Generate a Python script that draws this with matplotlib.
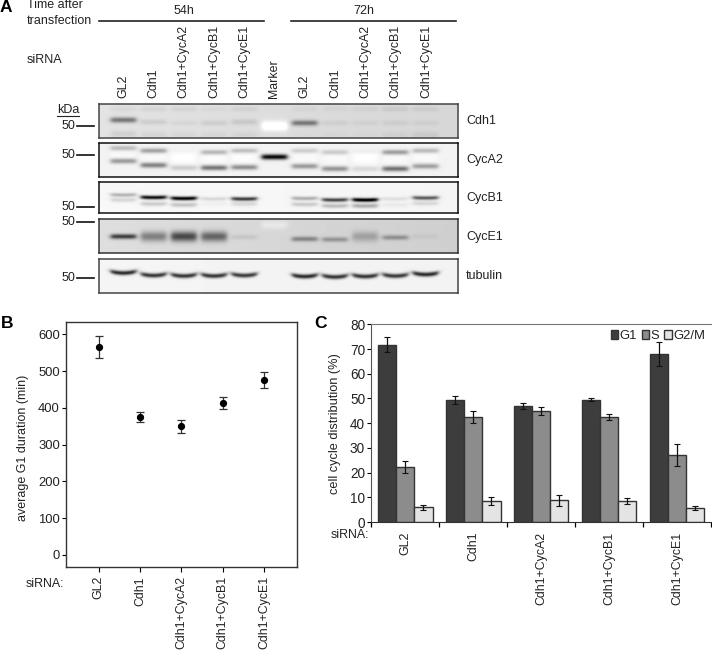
import numpy as np
import matplotlib
matplotlib.use('Agg')
import matplotlib.pyplot as plt

plt.rcParams['font.family'] = ['Liberation Sans', 'DejaVu Sans']

W, H = 712, 651

# panel A
lane_names = ['GL2', 'Cdh1', 'Cdh1+CycA2', 'Cdh1+CycB1', 'Cdh1+CycE1', 'Marker',
              'GL2', 'Cdh1', 'Cdh1+CycA2', 'Cdh1+CycB1', 'Cdh1+CycE1']
blot_names = ['Cdh1', 'CycA2', 'CycB1', 'CycE1', 'tubulin']

# band rows (px below blot top) and darkness for each lane, one pair per band
cdh1_main_rows = [16, 18, 19, 19, 18, 19, 19, 19, 19, 19, 19]
cdh1_main_dark = [.42, .08, .04, .07, .09, 0, .40, .05, .04, .05, .04]
cdh1_top_rows = [5, 5, 5, 5, 5, 5, 5, 5, 5, 5, 5]
cdh1_top_dark = [.04, .05, .05, .03, .05, 0, .03, .03, .04, .06, .05]
cdh1_low_rows = [30, 31, 31, 31, 31, 31, 31, 31, 31, 31, 31]
cdh1_low_dark = [.07, .05, .04, .04, .04, 0, .01, .02, .02, .04, .06]
cdh1_blob_dark = [0, 0, 0, 0, 0, -.2, 0, 0, 0, 0, 0]

cyca2_up_rows = [6, 8.5, 8.5, 10, 8.5, 9, 8.5, 10, 9, 10, 8.5]
cyca2_up_dark = [.22, .34, .02, .26, .22, 0, .16, .18, .04, .36, .24]
cyca2_low_rows = [18.5, 22.5, 25, 25, 24.5, 14.5, 23.5, 26, 26, 26, 23.5]
cyca2_low_dark = [.38, .46, .16, .5, .4, .95, .36, .38, .11, .52, .34]
cyca2_halo_dark = [.03, .03, .05, .04, .04, 0, .03, .03, .05, .03, .03]

cycb1_main_rows = [13, 15.5, 16.5, 17, 17, 16, 16.5, 18, 18, 17, 16]
cycb1_main_dark = [.26, .9, .95, .12, .72, 0, .28, .68, .98, .09, .6]
cycb1_low_rows = [18, 22, 23, 22, 22, 22, 22.5, 24, 24, 23, 21.5]
cycb1_low_dark = [.13, .17, .2, .03, .12, 0, .17, .22, .28, .05, .12]

cyce1_main_rows = [17.5, 17.5, 17.5, 17.5, 18, 18, 20, 20.5, 17.5, 18.5, 17.5]
cyce1_main_dark = [.62, 0, 0, 0, .07, 0, .32, .25, 0, .26, .04]
cyce1_wide_dark = [0, .36, .58, .46, 0, 0, 0, 0, .2, 0, 0]
cyce1_light_dark = [0, 0, 0, 0, 0, -.07, 0, 0, 0, 0, 0]

tubulin_rows = [14, 16.5, 17, 17, 16.5, 17, 17.5, 18, 17.5, 17, 15.5]
tubulin_dark = [.78, .74, .74, .74, .72, 0, .78, .74, .74, .72, .78]

# panel B
b_names = ['GL2', 'Cdh1', 'Cdh1+CycA2', 'Cdh1+CycB1', 'Cdh1+CycE1']
g1_duration = [565, 376, 350, 413, 476]
g1_duration_err = [30, 14, 17, 17, 22]

# panel C
g1_pct = [71.8, 49.4, 47.0, 49.4, 67.9]
g1_err = [3.0, 1.5, 1.2, 0.6, 4.9]
s_pct = [22.3, 42.4, 44.8, 42.6, 27.0]
s_err = [2.5, 2.5, 1.7, 1.3, 4.5]
g2m_pct = [5.9, 8.4, 8.8, 8.4, 5.5]
g2m_err = [0.9, 1.6, 2.2, 1.2, 0.8]


def ax_px(l, t, r, b):
    return fig.add_axes([l / W, 1 - b / H, (r - l) / W, (b - t) / H])


def render_blot(ax, bands, bg_left, bg_right, width, height, edge, smile=0):
    # soft gel look: each band is blurred over its lane, x is in lane units
    lane_px = 30.3
    x0 = -24 / lane_px
    x1 = x0 + width / lane_px
    xs = np.linspace(x0, x1, width)
    ys = np.arange(height) + 0.5
    xx, yy = np.meshgrid(xs, ys)
    img = np.tile(np.linspace(bg_left, bg_right, width), (height, 1))
    for rows, dark, sigma in bands:
        for i in range(len(rows)):
            if dark[i] == 0:
                continue
            dx = xx - i
            across = 0.5 * (np.tanh((dx + 0.42) / 0.09) - np.tanh((dx - 0.42) / 0.09))
            along = np.exp(-(yy - rows[i] + smile * (dx / 0.42) ** 2) ** 2 / (2 * sigma ** 2))
            img = img - dark[i] * across * along
    ax.imshow(np.clip(img, 0, 1), cmap='gray', vmin=0, vmax=1, aspect='auto',
              interpolation='bilinear', extent=[x0, x1, height, 0])
    ax.set_xticks([])
    ax.set_yticks([])
    for s in ax.spines.values():
        s.set_color(edge)
        s.set_linewidth(1.1)


fig = plt.figure(figsize=(W / 100, H / 100), dpi=100)

# pixel-space layer for the free labels
page = fig.add_axes([0, 0, 1, 1])
page.set_xlim(0, W)
page.set_ylim(H, 0)
page.axis('off')

TXT = '#222222'
page.text(0, 7, 'A', fontsize=12.5, fontweight='bold', va='center')
page.text(0.5, 324, 'B', fontsize=12.5, fontweight='bold', va='center')
page.text(314, 324, 'C', fontsize=12.5, fontweight='bold', va='center')
page.text(27, 5, 'Time after', fontsize=9, va='center', color=TXT)
page.text(27, 21.5, 'transfection', fontsize=9, va='center', color=TXT)
page.text(27, 60, 'siRNA', fontsize=9, va='center', color=TXT)
page.text(183.5, 11.5, '54h', fontsize=9, ha='center', va='center', color=TXT)
page.text(364, 11.5, '72h', fontsize=9, ha='center', va='center', color=TXT)
page.plot([99, 264], [21, 21], color=TXT, lw=1.2)
page.plot([291, 456], [21, 21], color=TXT, lw=1.2)

lane_x = 123 + 30.3 * np.arange(len(lane_names))
for x, name in zip(lane_x, lane_names):
    page.text(x, 98.5, name, rotation=90, fontsize=8.95, ha='center', va='bottom', color=TXT)

page.text(68, 110, 'kDa', fontsize=9, ha='center', va='center', color=TXT)
page.plot([57, 79], [115.5, 115.5], color=TXT, lw=0.8)
for y in [126, 154.7, 206.7, 222, 278]:
    page.text(75.5, y, '50', fontsize=9, ha='right', va='center', color=TXT)
    page.plot([77, 93.5], [y, y], color='#111111', lw=1.2)

blot_tops = [104, 143, 182, 219, 259]
blot_bottoms = [138, 177, 213, 253, 293]
blot_edges = ['#444444', '#111111', '#111111', '#333333', '#444444']
label_y = [121.5, 160, 198.5, 237, 276]

lanes_n = len(lane_names)
blot_bands = [
    [(cdh1_main_rows, cdh1_main_dark, 2.0), (cdh1_top_rows, cdh1_top_dark, 2.0),
     (cdh1_low_rows, cdh1_low_dark, 2.4), ([22] * lanes_n, cdh1_blob_dark, 3.5)],
    [(cyca2_up_rows, cyca2_up_dark, 1.7), (cyca2_low_rows, cyca2_low_dark, 1.8),
     ([15] * lanes_n, [-d for d in cyca2_halo_dark], 5)],
    [(cycb1_main_rows, cycb1_main_dark, 1.4), (cycb1_low_rows, cycb1_low_dark, 1.6)],
    [(cyce1_main_rows, cyce1_main_dark, 1.8), (cyce1_main_rows, cyce1_wide_dark, 3.6),
     ([6] * lanes_n, cyce1_light_dark, 3)],
    [(tubulin_rows, tubulin_dark, 1.6)],
]
blot_bg = [(.89, .84), (.95, .95), (.97, .96), (.87, .81), (.96, .95)]
blot_smile = [0, 0, 0.4, 0, 1.6]

for k in range(5):
    ax = ax_px(99, blot_tops[k], 458, blot_bottoms[k])
    render_blot(ax, blot_bands[k], blot_bg[k][0], blot_bg[k][1], 359,
                blot_bottoms[k] - blot_tops[k], blot_edges[k], smile=blot_smile[k])
    page.text(466, label_y[k], blot_names[k], fontsize=9, va='center', color=TXT)

# panel B
ax_b = ax_px(66, 322, 297, 567)
xb = np.arange(1, 6)
ax_b.errorbar(xb, g1_duration, yerr=g1_duration_err, fmt='o', color='black', ms=4.2,
              ecolor='#333333', elinewidth=0.9, capsize=3, capthick=0.9)
ax_b.set_xlim(0.21, 5.8)
ax_b.set_ylim(-32.7, 634)
ax_b.set_yticks(range(0, 601, 100))
ax_b.set_xticks(xb)
ax_b.set_xticklabels(b_names, rotation=90, fontsize=8.95, color=TXT)
ax_b.tick_params(axis='y', labelsize=9.4, length=3, width=0.8, pad=1.5, labelcolor=TXT)
ax_b.tick_params(axis='x', length=3.5, width=0.8, pad=3)
for s in ax_b.spines.values():
    s.set_color('#333333')
    s.set_linewidth(1.0)
page.text(23, 447.5, 'average G1 duration (min)', rotation=90, fontsize=9,
          ha='center', va='center', color=TXT)
page.text(64.5, 584, 'siRNA:', fontsize=8.95, ha='right', va='center', color=TXT)

# panel C
ax_c = ax_px(371.3, 324.3, 711, 522)
xc = np.arange(5) + 0.5
bw = 0.268
bar_kw = dict(edgecolor='#333333', linewidth=1.0,
              error_kw=dict(ecolor='#111111', elinewidth=0.9, capsize=2.4, capthick=0.8))
ax_c.bar(xc - bw, g1_pct, bw, yerr=g1_err, color='#3d3d3d', label='G1', **bar_kw)
ax_c.bar(xc, s_pct, bw, yerr=s_err, color='#8c8c8c', label='S', **bar_kw)
ax_c.bar(xc + bw, g2m_pct, bw, yerr=g2m_err, color='#e4e4e4', label='G2/M', **bar_kw)
ax_c.set_xlim(0, 5)
ax_c.set_ylim(0, 80)
ax_c.set_yticks(range(0, 81, 10))
ax_c.set_xticks(range(6))
ax_c.set_xticklabels([])
ax_c.set_xticks(xc, minor=True)
ax_c.set_xticklabels(b_names, minor=True, rotation=90, fontsize=8.95, color=TXT)
ax_c.tick_params(axis='x', which='major', length=3.5, width=0.9)
ax_c.tick_params(axis='x', which='minor', length=0, pad=7)
ax_c.tick_params(axis='y', labelsize=9.8, length=3, width=0.8, pad=1.5, labelcolor=TXT)
ax_c.spines['right'].set_visible(False)
ax_c.spines['top'].set_color('#777777')
ax_c.spines['left'].set_color('#555555')
ax_c.spines['bottom'].set_color('#333333')
ax_c.legend(loc='upper right', ncol=3, frameon=False, fontsize=9.4, handlelength=0.6,
            handleheight=0.6, handletextpad=0.1, columnspacing=0.35,
            borderaxespad=0.3, borderpad=0.15, labelcolor=TXT)
page.text(335, 424, 'cell cycle distribution (%)', rotation=90, fontsize=9.2,
          ha='center', va='center', color=TXT)
page.text(369.5, 535, 'siRNA:', fontsize=8.95, ha='right', va='center', color=TXT)

fig.savefig('out.png', dpi=100)
